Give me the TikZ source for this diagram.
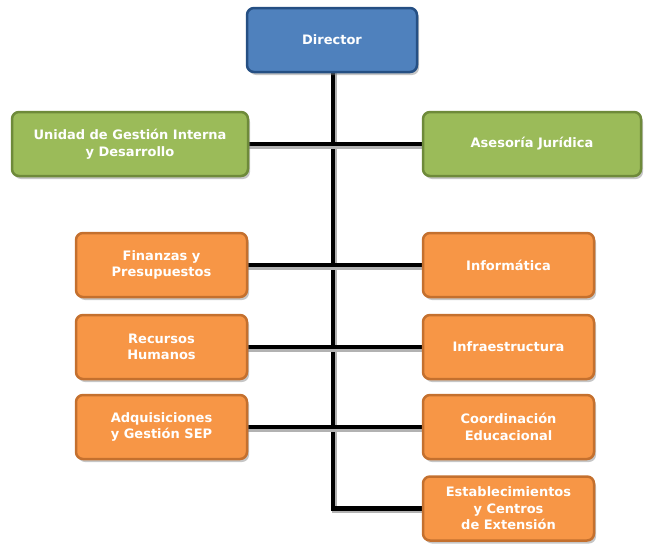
\documentclass[tikz,border=0pt]{standalone}
\usepackage{fontspec}
\setmainfont{DejaVu Sans}
\usetikzlibrary{shapes,shadows,positioning,calc}
\definecolor{dirblue}{RGB}{79,129,189}
\definecolor{dirblueline}{RGB}{37,79,131}
\definecolor{staffgreen}{RGB}{155,187,89}
\definecolor{staffgreenline}{RGB}{110,138,58}
\definecolor{unitorange}{RGB}{247,150,70}
\definecolor{unitorangeline}{RGB}{196,112,46}

\begin{document}
\begin{tikzpicture}[
    x=1pt, y=-1pt,
    box/.style={draw, line width=2.5pt, rounded corners=7pt, align=center,
        text=white, font=\fontsize{13}{16.5}\selectfont\bfseries,
        drop shadow={shadow xshift=2pt, shadow yshift=-3pt, opacity=0.45}},
    director/.style={box, fill=dirblue, draw=dirblueline, minimum width=170pt, minimum height=64pt},
    staff/.style={box, fill=staffgreen, draw=staffgreenline, minimum height=64pt},
    unit/.style={box, fill=unitorange, draw=unitorangeline, minimum width=171pt, minimum height=64pt},
    link/.style={line width=4.5pt, black,
        preaction={draw=black!30, line width=4.5pt, transform canvas={shift={(1.5pt,-2.5pt)}}}}
]
\useasboundingbox (0,0) rectangle (654,546);

% Links (drawn first, boxes go on top)
\coordinate (trunktop) at (333,70);
\coordinate (trunkbot) at (333,508.5);
\draw[link] (trunktop) -- (trunkbot) -- (423,508.5);
\draw[link] (246,144) -- (424,144);
\draw[link] (246,265) -- (424,265);
\draw[link] (246,347) -- (424,347);
\draw[link] (246,427) -- (424,427);

% Head
\node[director] (director) at (332,40) {Director};

% Staff units
\node[staff, minimum width=236pt] (unidad) at (130,144) {Unidad de Gestión Interna\\y Desarrollo};
\node[staff, minimum width=218pt] (asesoria) at (532,144) {Asesoría Jurídica};

% Left column
\node[unit] (finanzas) at (161.5,265) {Finanzas y\\Presupuestos};
\node[unit] (recursos) at (161.5,347) {Recursos\\Humanos};
\node[unit] (adquis) at (161.5,427) {Adquisiciones\\y Gestión SEP};

% Right column
\node[unit] (informatica) at (508.5,265) {Informática};
\node[unit] (infra) at (508.5,347) {Infraestructura};
\node[unit] (coord) at (508.5,427) {Coordinación\\Educacional};
\node[unit] (estab) at (508.5,508.5) {Establecimientos\\y Centros\\de Extensión};

\end{tikzpicture}
\end{document}
